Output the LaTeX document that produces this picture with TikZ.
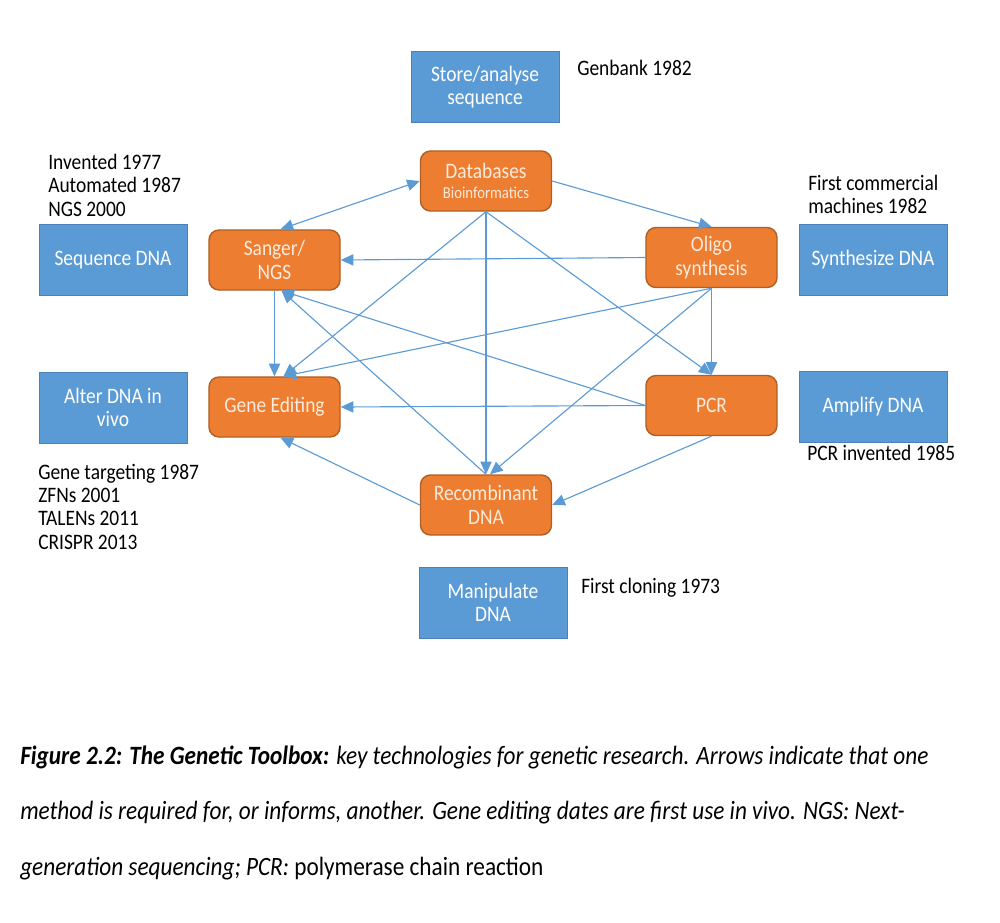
\documentclass[tikz,border=0pt]{standalone}
\usepackage{fontspec}
\setmainfont{Carlito}[FakeStretch=0.88]
\usetikzlibrary{arrows.meta,calc}
\definecolor{orfill}{HTML}{ED7D31}
\definecolor{ordraw}{HTML}{B05F24}
\definecolor{blfill}{HTML}{5B9BD5}
\definecolor{bldraw}{HTML}{4A82B8}
\definecolor{arr}{HTML}{5B9BD5}
\definecolor{ortext}{HTML}{FDEBDC}
\begin{document}
\begin{tikzpicture}[x=0.025cm,y=-0.025cm,
  base/.style={font=\fontsize{15.7}{16.7}\selectfont, align=center, inner sep=0pt},
  orbox/.style={base, draw=ordraw, line width=1pt, fill=orfill, rounded corners=0.25cm, minimum width=3.275cm, minimum height=1.5cm, text=ortext},
  blbox/.style={base, draw=bldraw, line width=0.6pt, fill=blfill, minimum width=3.7cm, minimum height=1.775cm, text=white},
  note/.style={font=\fontsize{15.7}{16.7}\selectfont, anchor=base west, inner sep=0pt},
  captext/.style={font=\fontsize{18.8}{20}\selectfont\itshape, anchor=base west, inner sep=0pt},
  link/.style={draw=arr, line width=0.8pt, -{Triangle[length=9pt,width=8pt]}},
  dlink/.style={draw=arr, line width=0.8pt, {Triangle[length=9pt,width=8pt]}-{Triangle[length=9pt,width=8pt]}},
]
\useasboundingbox (0,0) rectangle (1000,922);

% blue boxes
\node[blbox] (store) at (485,87) {Store/analyse\\sequence};
\node[blbox] (seq) at (113,260) {Sequence DNA};
\node[blbox] (syn) at (873,260) {Synthesize DNA};
\node[blbox] (alter) at (113,407.5) {Alter DNA in\\vivo};
\node[blbox] (amp) at (873,406.5) {Amplify DNA};
\node[blbox] (manip) at (493,602.5) {Manipulate\\DNA};

% orange boxes
\node[orbox] (db) at (486,181) {Databases\\[-2pt]{\fontsize{11.9}{13}\selectfont Bioinformatics}};
\node[orbox] (sg) at (274.5,260) {Sanger/\\NGS};
\node[orbox] (ol) at (711.5,257.5) {Oligo\\synthesis};
\node[orbox] (ge) at (274.5,407) {Gene Editing};
\node[orbox] (pcr) at (711.5,405.5) {PCR};
\node[orbox] (rc) at (486,505) {Recombinant\\DNA};

% notes
\node[note] (n1) at (577,75) {Genbank 1982};
\node[note] (n2) at (48,169) {Invented 1977};
\node[note] (n3) at (48,192.5) {Automated 1987};
\node[note] (n4) at (48,216) {NGS 2000};
\node[note] (n5) at (808,190.5) {First commercial};
\node[note] (n6) at (808,213.5) {machines 1982};
\node[note] (n7) at (38,479) {Gene targeting 1987};
\node[note] (n8) at (38,502) {ZFNs 2001};
\node[note] (n9) at (38,525.5) {TALENs 2011};
\node[note] (n10) at (38,549) {CRISPR 2013};
\node[note] (n11) at (807,460) {PCR invented 1985};
\node[note] (n12) at (581,593) {First cloning 1973};

% connectors
\draw[dlink] ($(sg.north)+(6,0)$) -- (db.west);
\draw[link] (db.east) -- (ol.north);
\draw[link] (ol.west) -- (sg.east);
\draw[link] (db.south) -- ($(ge.north)+(9,0)$);
\draw[link] (db.south) -- (rc.north);
\draw[link] (db.south) -- (pcr.north);
\draw[link] (sg.south) -- (ge.north);
\draw[link] (pcr.west) -- ($(sg.south)+(7,0)$);
\draw[link] (rc.north) -- ($(sg.south)+(7,0)$);
\draw[link] (ol.south) -- ($(ge.north)+(9,0)$);
\draw[link] (ol.south) -- ($(rc.north)+(4,0)$);
\draw[link] (ol.south) -- (pcr.north);
\draw[link] (pcr.west) -- (ge.east);
\draw[link] (pcr.south) -- (rc.east);
\draw[link] (rc.west) -- ($(ge.south)+(6,0)$);

% caption
\node[captext] (c1) at (20,764) {\textbf{Figure 2.2: The Genetic Toolbox:} key technologies for genetic research. Arrows indicate that one};
\node[captext] (c2) at (20,819) {method is required for, or informs, another. Gene editing dates are first use in vivo. NGS: Next-};
\node[captext] (c3) at (20,875) {generation sequencing; PCR: \upshape polymerase chain reaction};
\end{tikzpicture}
\end{document}
